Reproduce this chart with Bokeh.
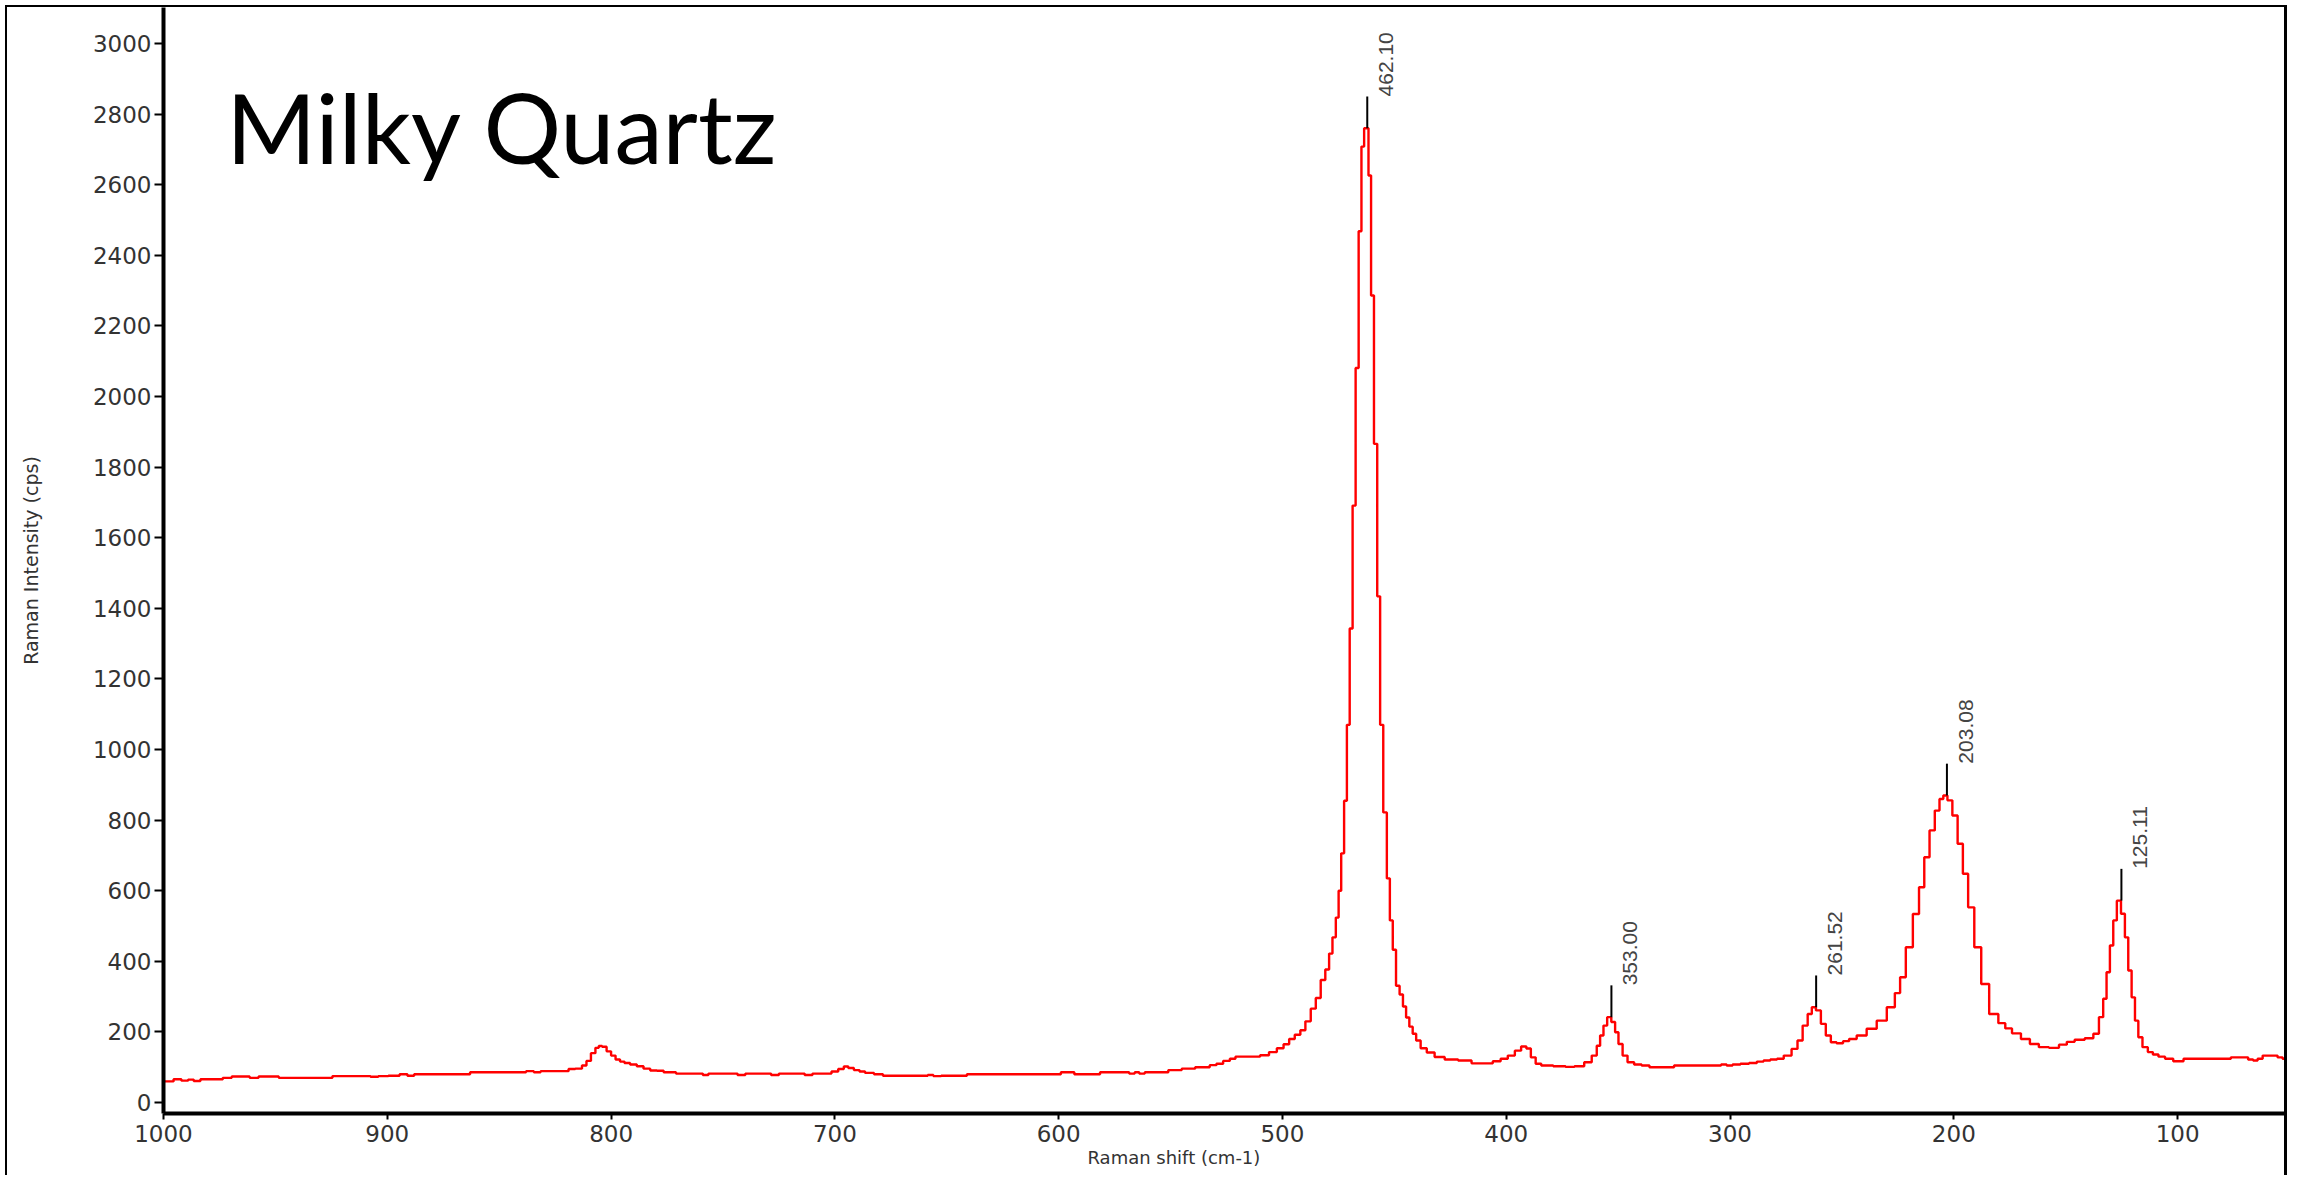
import math
from bokeh.plotting import figure
from bokeh.models import Range1d, FixedTicker, Label, Title
from bokeh.core.properties import value
from bokeh.embed import file_html
from bokeh.resources import INLINE

# ---------------- data ----------------
raman_shift = [
    1000, 997, 994, 990, 988, 985, 982, 975, 972, 967, 963, 960, 955, 950, 947, 935,
    925, 924, 910, 905, 903, 896, 893, 889, 887, 875, 864, 862, 850, 840, 836, 833,
    830, 820, 818, 814, 812, 810, 808, 806, 805, 803, 801, 799, 797, 795, 793, 790,
    787, 784, 781, 778, 775, 772, 770, 760, 758, 755, 745, 742, 738, 730, 727, 723,
    715, 712, 708, 703, 700, 697, 695, 693, 690, 688, 685, 680, 677, 660, 657, 655,
    650, 642, 640, 600, 598, 594, 592, 583, 580, 570, 567, 565, 563, 560, 552, 550,
    546, 544, 540, 538, 534, 531, 528, 525, 522, 520, 512, 508, 504, 501, 498, 496,
    493, 491, 488.5, 486.2, 484.0, 481.8, 479.9, 478.4, 476.9, 475.4, 474.4, 473.1,
    471.8, 470.6, 469.3, 468.0, 466.6, 465.3, 464.1, 462.9, 462.1, 461.0, 459.8,
    458.4, 456.9, 455.8, 454.1, 452.6, 451.4, 450.0, 448.5, 446.8, 445.5, 444.0,
    442.6, 441.0, 439.5, 437.0, 434.0, 430, 425, 418, 413, 408, 404, 401, 397.6,
    394.7, 392, 390, 388, 385.7, 383, 375, 372, 367, 363.3, 360.3, 358.8, 357.3,
    355.8, 354, 352.1, 350.6, 349.1, 346.9, 344.7, 341, 338, 334, 326, 324, 305,
    303, 300, 297.7, 293, 290, 286, 284, 280, 278, 274, 271, 268.7, 266.4, 264.2,
    262.7, 260.5, 258.3, 256.1, 253.8, 251, 248, 245.6, 241.2, 236.7, 232.2, 227.7,
    225, 223, 219.9, 216.7, 214.4, 212.0, 209.7, 207.3, 205.5, 203.9, 201.8, 199.5,
    197.1, 194.8, 192.4, 189.3, 186.2, 182.2, 178, 176, 172, 168, 164, 160, 155,
    151, 148, 144, 139, 136.3, 134.0, 132.5, 131.0, 129.5, 128.0, 126.3, 124.3,
    122.8, 121.3, 119.8, 118.3, 116.8, 114.6, 112, 110.1, 107, 104.2, 99.7, 95, 85,
    77.4, 75, 70, 67, 65.5, 63, 61, 56.7, 54, 52.2, 50,
]
intensity = [
    60, 60, 66, 62, 65, 61, 66, 66, 70, 74, 74, 70, 74, 74, 70, 70,
    70, 75, 75, 73, 75, 76, 80, 76, 80, 80, 80, 86, 86, 86, 89, 86,
    89, 89, 95, 96, 105, 118, 140, 155, 160, 158, 145, 133, 122, 116, 112, 108,
    103, 96, 91, 90, 86, 86, 82, 82, 78, 82, 82, 78, 82, 82, 78, 82,
    82, 78, 82, 82, 88, 95, 102, 98, 92, 88, 84, 80, 76, 76, 78, 75,
    76, 76, 80, 80, 86, 86, 80, 80, 86, 86, 82, 86, 82, 86, 86, 92,
    92, 96, 96, 100, 100, 106, 110, 118, 124, 130, 130, 134, 143, 154, 165, 180,
    192, 205, 230, 266, 296, 347, 377, 422, 468, 524, 600, 706,
    855, 1070, 1343, 1691, 2081, 2468, 2708, 2760, 2760, 2626, 2286,
    1866, 1434, 1070, 822, 635, 516, 433, 331, 306, 272, 241,
    215, 195, 176, 154, 142, 129, 122, 119, 111, 111, 117, 124, 133,
    147, 159, 153, 128, 110, 105, 103, 101, 103, 114, 133, 161, 190,
    218, 242, 228, 199, 166, 133, 114, 108, 105, 100, 100, 105, 105,
    108, 105, 108, 110, 112, 116, 119, 122, 124, 133, 152, 176, 218, 251,
    270, 261, 223, 190, 171, 168, 174, 180, 190, 209, 232, 270,
    310, 355, 440, 534, 610, 695, 771, 827, 860, 870, 856, 813,
    733, 648, 553, 440, 336, 251, 225, 210, 196, 180, 166, 157, 155,
    164, 172, 178, 182, 195, 242, 294, 369, 445, 516, 572, 535,
    468, 374, 298, 232, 185, 157, 143, 136, 130, 124, 117, 124, 124,
    124, 128, 128, 122, 119, 124, 133, 133, 128, 124, 124,
]

# labelled peaks: position (cm-1) and intensity at the peak top
peak_pos = [462.10, 353.00, 261.52, 203.08, 125.11]
peak_int = [2760, 242, 270, 870, 572]
peak_labels = [f"{v:.2f}" for v in peak_pos]

y_ticks = list(range(0, 3001, 200))
x_ticks = list(range(100, 1001, 100))

title_text = "Milky Quartz"
x_label = "Raman shift (cm-1)"
y_label = "Raman Intensity (cps)"

# ---------------- figure ----------------
TXT = "#333333"
p = figure(
    width=2282, height=1170,
    x_range=Range1d(1000, 50), y_range=Range1d(-31, 3102),
    output_backend="svg", toolbar_location=None,
    min_border_left=156, min_border_right=0, min_border_top=0, min_border_bottom=64,
)
p.margin = (5, 0, 0, 5)
p.styles = {"border-left": "2px solid #000", "border-top": "2px solid #000",
            "border-right": "3px solid #000"}
p.outline_line_color = None
p.background_fill_color = "white"
p.border_fill_color = "white"
p.xgrid.visible = False
p.ygrid.visible = False

for ax in (p.xaxis[0], p.yaxis[0]):
    ax.axis_line_width = 4
    ax.axis_line_color = "black"
    ax.major_tick_line_color = "black"
    ax.major_tick_line_width = 2
    ax.major_tick_in = 0
    ax.minor_tick_line_color = None
    ax.major_label_text_font = "DejaVu Sans"
    ax.major_label_text_font_size = "23px"
    ax.major_label_text_color = TXT
    ax.axis_label_text_font = "DejaVu Sans"
    ax.axis_label_text_font_size = "19px"
    ax.axis_label_text_font_style = "normal"
    ax.axis_label_text_color = TXT

p.yaxis.ticker = FixedTicker(ticks=y_ticks)
p.yaxis.major_tick_out = 9
p.yaxis.major_label_standoff = 3
p.yaxis.axis_label = y_label
p.yaxis.axis_label_standoff = 48

p.xaxis.ticker = FixedTicker(ticks=x_ticks)
p.xaxis.major_tick_out = 6
p.xaxis.major_label_standoff = 5

# x-axis title, a little left of the frame centre as in the reference
p.add_layout(Title(text=x_label, align="left", offset=924, standoff=0,
                   text_font="DejaVu Sans", text_font_size="18px",
                   text_font_style="normal", text_color=TXT), "below")

# spectrum
p.step(raman_shift, intensity, mode="center", line_color="#ff0000", line_width=2.4)

# peak markers and labels
marker_top = [v + 90 for v in peak_int]
p.segment(x0=peak_pos, y0=peak_int, x1=peak_pos, y1=marker_top,
          line_color="black", line_width=2)
p.text(x=peak_pos, y=marker_top, text=peak_labels, angle=math.pi / 2,
       text_align="left", text_baseline="middle", x_offset=19,
       text_font=value("Liberation Sans"), text_font_size="21px", text_color="#444444")

# title
p.add_layout(Label(x=972, y=2765, text=title_text, text_font="Lato",
                   text_font_size="97px", text_color="black",
                   text_align="left", text_baseline="alphabetic"))

open("out.html", "w").write(file_html(p, INLINE))
